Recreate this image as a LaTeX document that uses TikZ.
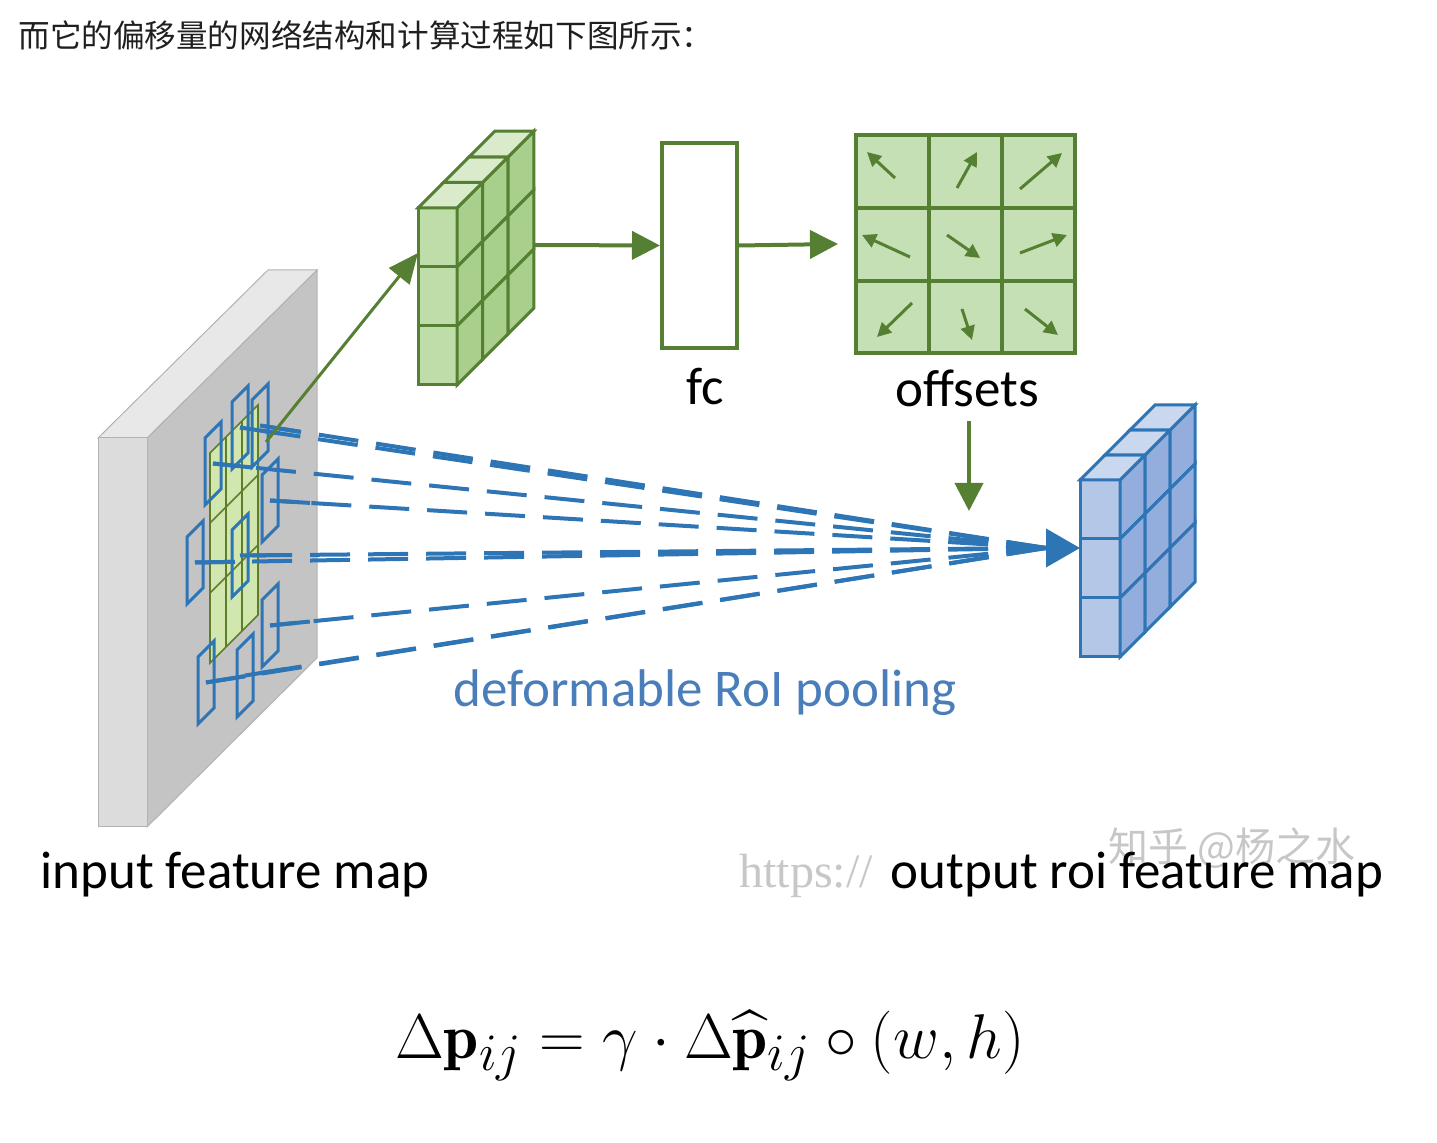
\documentclass[tikz,border=0pt]{standalone}
\usepackage{fontspec}
\usepackage{amsmath}
\usetikzlibrary{arrows.meta,positioning,calc}
\newfontfamily\labelfont{Carlito}
\newfontfamily\cjk{Noto Sans CJK SC}
\newfontfamily\markfont{Liberation Serif}

\definecolor{slabfront}{HTML}{DCDCDC}
\definecolor{slabtop}{HTML}{E8E8E8}
\definecolor{slabside}{HTML}{C4C4C4}
\definecolor{slabedge}{HTML}{B2B2B2}
\definecolor{gline}{HTML}{557F32}
\definecolor{gfront}{HTML}{BFDDA9}
\definecolor{gside}{HTML}{A8CF8B}
\definecolor{gtop}{HTML}{D9EBCB}
\definecolor{gcell}{HTML}{C5E0B4}
\definecolor{gpatch}{HTML}{D2E7B0}
\definecolor{bline}{HTML}{2E75B6}
\definecolor{bfront}{HTML}{B4C7E7}
\definecolor{bside}{HTML}{93AEDD}
\definecolor{btop}{HTML}{C9D7EF}
\definecolor{pooltext}{HTML}{4A7EBB}

\tikzset{
  gcube front/.style={fill=gfront, draw=gline, line width=1.5pt},
  gcube side/.style={fill=gside, draw=gline, line width=1.5pt},
  gcube top/.style={fill=gtop, draw=gline, line width=1.5pt},
  bcube front/.style={fill=bfront, draw=bline, line width=1.5pt},
  bcube side/.style={fill=bside, draw=bline, line width=1.5pt},
  bcube top/.style={fill=btop, draw=bline, line width=1.5pt},
  garrow/.style={gline, line width=2pt, -{Triangle[length=14pt,width=14pt]}},
  smallarrow/.style={gline, line width=1.5pt, -{Triangle[length=7pt,width=7pt]}},
  ray/.style={bline, line width=2pt, dash pattern=on 20pt off 9pt},
  sample/.style={bline, line width=1.5pt},
  lbl/.style={inner sep=0pt, font=\labelfont\fontsize{26.5}{30}\selectfont},
  watermark/.style={inner sep=0pt, black!22}
}

% 3x3 cells seen from the side: #1,#2 front top-left, #3 width, #4 height, #5 depth step, #6 style prefix
\newcommand{\cellcube}[6]{%
  \foreach \r in {0,1,2} {
    \draw[#6 front] (#1,#2+\r*#4) rectangle ++(#3,#4);
    \foreach \k in {0,1,2}
      \draw[#6 side] (#1+#3+\k*#5,#2+\r*#4-\k*#5) -- ++(#5,-#5) -- ++(0,#4) -- ++(-#5,#5) -- cycle;
  }
  \foreach \k in {0,1,2}
    \draw[#6 top] (#1+\k*#5,#2-\k*#5) -- ++(#3,0) -- ++(#5,-#5) -- ++(-#3,0) -- cycle;
}

\begin{document}
\begin{tikzpicture}[x=0.5pt, y=-0.5pt]
  \useasboundingbox (0,0) rectangle (1437,1143);

  % Caption line
  \node[anchor=base west, inner sep=0pt, black!88, font=\cjk\fontsize{15.8}{18}\selectfont] (title) at (18,48)
    {而它的偏移量的网络结构和计算过程如下图所示：};

  % Input feature map
  \draw[slabedge, fill=slabside, line width=0.5pt] (147,438) -- (317,270) -- (317,658) -- (147,827) -- cycle;
  \draw[slabedge, fill=slabtop, line width=0.5pt] (98,438) -- (268,270) -- (317,270) -- (147,438) -- cycle;
  \draw[slabedge, fill=slabfront, line width=0.5pt] (98,438) rectangle (147,827);

  % RoI bins on the map
  \draw[fill=gpatch, draw=gline!80!olive, line width=0.8pt] (210,453) -- (258,405) -- (258,615) -- (210,663) -- cycle;
  \foreach \i in {1,2}
    \draw[gline!80!olive, line width=0.8pt] (210+16*\i,453-16*\i) -- ++(0,210);
  \foreach \j in {1,2}
    \draw[gline!80!olive, line width=0.8pt] (210,453+70*\j) -- ++(48,-48);

  % Shifted sampling bins
  \foreach \n/\x/\y in {A/205/438, B/232/402, C/252/400, D/262/475, E/187/537,
                        F/232/530, G/262/600, H/198/657, I/237/650} {
    \draw[sample] (\x,\y) -- ++(16,-16) -- ++(0,67) -- ++(-16,16) -- cycle;
    \coordinate (s\n) at (\x+8,\y+25.5);
  }

  % Pooling rays
  \coordinate (pool) at (1046,548);
  \coordinate (outin) at (1080,548);
  \foreach \n in {A,B,C,D,E,F,G,H,I} {
    \draw[ray] (pool) -- (s\n);
    \draw[bline, line width=2pt] (s\n) -- ($(s\n)!20pt!(pool)$);
  }
  \draw[bline, line width=2pt, -{Triangle[length=17pt,width=19pt]}] (pool) -- (outin);

  % Green conv block
  \cellcube{418}{208}{39}{59}{25.6}{gcube}
  \coordinate (roi) at (266,442);
  \coordinate (convin) at (418,253);
  \coordinate (convout) at (534,245);
  \draw[gline, line width=1.5pt, -{Triangle[length=15pt,width=13pt]}] (roi) -- (convin);

  % fc and offsets
  \node[draw=gline, fill=white, line width=2pt, minimum width=37.5pt, minimum height=102.5pt, inner sep=0pt] (fc) at (699.5,245.5) {};
  \node[draw=gline, fill=gcell, line width=2pt, minimum width=109.5pt, minimum height=109pt, inner sep=0pt] (offs) at (965.5,244) {};
  \foreach \i in {1,2} {
    \draw[gline, line width=2pt] (856+73*\i,135) -- ++(0,218);
    \draw[gline, line width=2pt] (856,135+73*\i) -- ++(219,0);
  }
  \draw[garrow] (convout) -- (fc.west);
  \draw[garrow] (fc.east) -- ([xshift=-8pt]offs.west);

  % Offset vectors
  \foreach \a/\b/\c/\d in {895/178/867/152, 957/188/977/152, 1020/189/1062/153,
                          910/257/862/235, 947/235/980/258, 1020/253/1067/235,
                          912/303/877/337, 962/309/972/340, 1025/309/1058/335}
    \draw[smallarrow] (\a,\b) -- (\c,\d);

  \coordinate (ofsdown) at (969,421);
  \coordinate (poolin) at (969,511);
  \draw[garrow] (ofsdown) -- (poolin);

  % Blue output block
  \cellcube{1080}{480}{40}{59}{25}{bcube}

  % Labels
  \node[lbl, anchor=base] (fclab) at (705,405) {fc};
  \node[lbl, anchor=base] (offlab) at (967,407) {offsets};
  \node[lbl, anchor=base, text=pooltext] (poollab) at (705,707) {deformable RoI pooling};
  \node[watermark, anchor=base, font=\markfont\fontsize{24}{28}\selectfont] (wm1) at (806,888) {https://};
  \node[watermark, anchor=base, font=\cjk\fontsize{20}{24}\selectfont] (wm2) at (1232,862) {知乎 @杨之水};
  \node[lbl, anchor=base] (inlab) at (235,889) {input feature map};
  \node[lbl, anchor=base] (outlab) at (1137,889) {output roi feature map};

  % Offset formula
  \node[inner sep=0pt] (eq) at (710,1046)
    {\scalebox{1.27}{\fontsize{24.88}{30}\selectfont $\Delta\mathbf{p}_{ij}=\gamma\cdot\Delta\widehat{\mathbf{p}}_{ij}\circ(w,h)$}};
\end{tikzpicture}
\end{document}
